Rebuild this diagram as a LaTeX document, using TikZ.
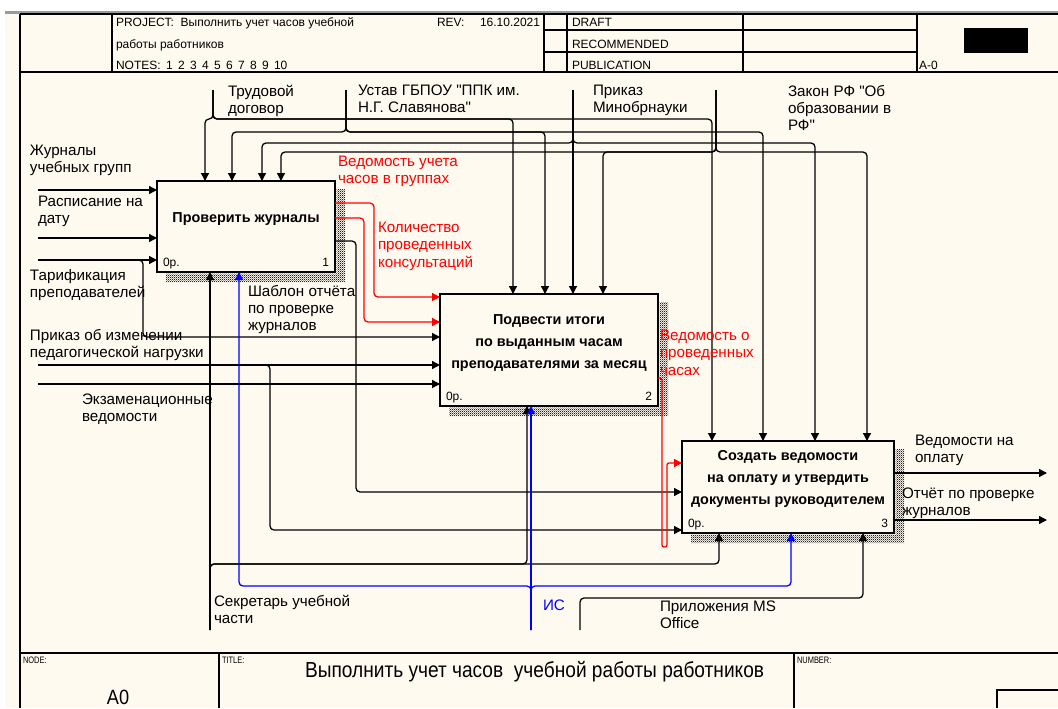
\documentclass[tikz,border=0pt]{standalone}
\usepackage{fontspec}
\setmainfont{Liberation Sans}[Ligatures=TeXOff]
\newfontfamily\narrowsans[FakeStretch=0.8,Ligatures=TeXOff]{Liberation Sans}
\newfontfamily\titlesans[FakeStretch=0.88,Ligatures=TeXOff]{Liberation Sans}
\usetikzlibrary{arrows.meta,patterns}
\definecolor{paper}{HTML}{FFFAF0}
\definecolor{flowred}{HTML}{FF0000}
\definecolor{flowblue}{HTML}{0000FF}
\definecolor{topgray}{HTML}{9A9A9A}

% fine checkerboard used for the box shadows
\pgfdeclarepatternformonly{finechecker}{\pgfqpoint{0pt}{0pt}}{\pgfqpoint{1.6pt}{1.6pt}}{\pgfqpoint{1.6pt}{1.6pt}}{%
  \pgfpathrectangle{\pgfqpoint{0pt}{0pt}}{\pgfqpoint{0.8pt}{0.8pt}}%
  \pgfpathrectangle{\pgfqpoint{0.8pt}{0.8pt}}{\pgfqpoint{0.8pt}{0.8pt}}%
  \pgfusepath{fill}}

\begin{document}
\begin{tikzpicture}[x=0.75pt,y=-0.75pt,
  every node/.style={inner sep=0pt,outer sep=0pt},
  rule/.style={line width=0.9pt},
  hdr/.style={anchor=base west,font=\fontsize{9}{11}\selectfont},
  fieldname/.style={anchor=base west,font=\narrowsans\fontsize{7}{8}\selectfont},
  lbl/.style={anchor=north west,align=left,font=\fontsize{11.4}{13}\selectfont},
  act/.style={draw,line width=2.2pt,fill=paper},
  acttitle/.style={align=center,font=\fontsize{10.8}{16.5}\selectfont\bfseries},
  cost/.style={anchor=base west,font=\fontsize{9}{11}\selectfont},
  num/.style={anchor=base east,font=\fontsize{9}{11}\selectfont},
  hatch/.style={pattern=finechecker,pattern color=black!85},
  flow/.style={line width=0.95pt,rounded corners=3pt,-{Triangle[length=6pt,width=6pt]}},
  feed/.style={flow,draw=flowred},
  tool/.style={flow,draw=flowblue},
]

% sheet
\useasboundingbox (0,0) rectangle (1058,708);
\fill[white] (0,0) rectangle (1058,708);
\fill[paper] (5,13) rectangle (1058,708);

% header frame
\draw[topgray,line width=1.6pt] (5,12.5) -- (1058,12.5);
\draw[rule] (20,14) -- (1058,14);
\draw[rule] (20,14) -- (20,708);
\draw[rule] (20,72) -- (1058,72);
\foreach \x in {112,544,567,743,917} \draw[rule] (\x,14) -- (\x,72);
\draw[rule] (544,30) -- (917,30);
\draw[rule] (544,52) -- (917,52);
\fill (964,28) rectangle (1028,53);

\node[hdr] (hproj) at (116,26.5) {PROJECT:\ \ Выполнить учет часов учебной};
\node[hdr] (hproj2) at (116,48) {работы работников};
\node[hdr] (hnotes) at (116,69.5) {NOTES:\hspace{4pt}1\hspace{4pt}2\hspace{4pt}3\hspace{4pt}4\hspace{4pt}5\hspace{4pt}6\hspace{4pt}7\hspace{4pt}8\hspace{4pt}9\hspace{4pt}10};
\node[hdr] (hrev) at (437,26.5) {REV:};
\node[hdr] (hdate) at (480,26.5) {16.10.2021};
\node[hdr] (hdraft) at (572,26.5) {DRAFT};
\node[hdr] (hrec) at (572,48) {RECOMMENDED};
\node[hdr] (hpub) at (572,69.5) {PUBLICATION};
\node[hdr] (hnode) at (919,69.5) {A-0};

% footer frame
\draw[rule] (20,653) -- (1058,653);
\draw[rule] (219,653) -- (219,708);
\draw[rule] (794,653) -- (794,708);
\draw[rule] (1058,690) -- (997,690) -- (997,708);
\node[fieldname] (fnode) at (23,663) {NODE:};
\node[fieldname] (ftitle) at (222,663) {TITLE:};
\node[fieldname] (fnumber) at (797,663) {NUMBER:};
\node[anchor=base west,font=\titlesans\fontsize{16.3}{18}\selectfont] (ftext) at (305,677) {Выполнить учет часов\ \ учебной работы работников};
\node[anchor=base,font=\titlesans\fontsize{15.5}{18}\selectfont] (fa0) at (118,704) {A0};

% activity boxes
\node[act,minimum width=133.5pt,minimum height=68.25pt] (b1) at (246,226.5) {};
\node[act,minimum width=163.5pt,minimum height=84pt] (b2) at (549,350) {};
\node[act,minimum width=159pt,minimum height=69pt] (b3) at (788,487) {};
\foreach \b in {b1,b2,b3}
  \fill[hatch] ([shift={(1.5,8)}]\b.north east) -- ([shift={(10,8)}]\b.north east)
    -- ([shift={(10,10)}]\b.south east) -- ([shift={(9,10)}]\b.south west)
    -- ([shift={(9,1.5)}]\b.south west) -- ([shift={(1.5,1.5)}]\b.south east) -- cycle;

\node[acttitle] (t1) at ([yshift=5.6pt]b1.center) {Проверить журналы};
\node[acttitle] (t2) at ([yshift=5.6pt]b2.center) {Подвести итоги\\по выданным часам\\преподавателями за месяц};
\node[acttitle] (t3) at ([yshift=6pt]b3.center) {Создать ведомости\\на оплату и утвердить\\документы руководителем};
\foreach \b/\n in {b1/1,b2/2,b3/3}{
  \node[cost] (\b-cost) at ([shift={(6,-6)}]\b.south west) {0р.};
  \node[num] (\b-num) at ([shift={(-6,-6)}]\b.south east) {\n};
}

% free ends of the boundary arrows
\coordinate (trud) at (213,90);
\coordinate (ustav) at (346,90);
\coordinate (prikaz) at (573,90);
\coordinate (zakon) at (716,90);
\coordinate (jour) at (38,190);
\coordinate (rasp) at (38,238);
\coordinate (tarif) at (38,260);
\coordinate (prizm) at (38,365);
\coordinate (exam) at (38,384);
\coordinate (sekr) at (210,630);
\coordinate (is) at (531,630);
\coordinate (pril) at (580,630);
\coordinate (vedpay) at (1047,473);
\coordinate (otchet) at (1047,520);

% controls
\draw[flow] (trud) -- ++(0,29) -| (b1.north -| 205,0);
\draw[flow] (trud) -- ++(0,29) -| (b2.north -| 513,0);
\draw[flow] (trud) -- ++(0,29) -| (b3.north -| 712,0);
\draw[flow] (ustav) -- ++(0,42) -| (b1.north -| 232,0);
\draw[flow] (ustav) -- ++(0,42) -| (b2.north -| 545,0);
\draw[flow] (ustav) -- ++(0,42) -| (b3.north -| 763,0);
\draw[flow] (prikaz) -- ++(0,53) -| (b1.north -| 262,0);
\draw[flow] (prikaz) -- (b2.north -| prikaz);
\draw[flow] (prikaz) -- ++(0,53) -| (b3.north -| 815,0);
\draw[flow] (zakon) -- ++(0,62) -| (b1.north -| 281,0);
\draw[flow] (zakon) -- ++(0,62) -| (b2.north -| 603,0);
\draw[flow] (zakon) -- ++(0,62) -| (b3.north -| 867,0);

% inputs
\draw[flow] (jour) -- (b1.west |- jour);
\draw[flow] (rasp) -- (b1.west |- rasp);
\draw[flow] (tarif) -- (b1.west |- tarif);
\draw[flow] (tarif) -| (143,337) -- (b2.west |- 0,337);
\draw[flow] (prizm) -- (b2.west |- prizm);
\draw[flow] (prizm) -| (270,530) -- (b3.west |- 0,530);
\draw[flow] (exam) -- (b2.west |- exam);

% links between activities
\draw[feed] (b1.east |- 0,203) -| (374,297) -- (b2.west |- 0,297);
\draw[feed] (b1.east |- 0,218) -| (364,322) -- (b2.west |- 0,322);
\draw[flow] (b1.east |- 0,241) -| (356,492) -- (b3.west |- 0,492);
\draw[feed,rounded corners=1.5pt] (b2.east |- 0,378) -| (662,547) -| (667,463) -- (b3.west |- 0,463);

% outputs
\draw[flow] (b3.east |- vedpay) -- (vedpay);
\draw[flow] (b3.east |- otchet) -- (otchet);

% mechanisms
\draw[flow] (sekr) -- (b1.south -| sekr);
\draw[flow] (sekr) |- (527,564) -- (b2.south -| 527,0);
\draw[flow] (sekr) |- (719,564) -- (b3.south -| 719,0);
\draw[tool] (is) -- (b2.south -| is);
\draw[tool] (is) |- (239,586) -- (b1.south -| 239,0);
\draw[tool] (is) |- (791,586) -- (b3.south -| 791,0);
\draw[flow] (pril) |- (863,598) -- (b3.south -| 863,0);

% arrow labels
\node[lbl] (l-trud) at (228,85) {Трудовой\\договор};
\node[lbl] (l-ustav) at (358,85) {Устав ГБПОУ "ППК им.\\Н.Г. Славянова"};
\node[lbl] (l-prikaz) at (593,85) {Приказ\\Минобрнауки};
\node[lbl] (l-zakon) at (788,85) {Закон РФ "Об\\образовании в\\РФ"};
\node[lbl] (l-jour) at (30,145) {Журналы\\учебных групп};
\node[lbl] (l-rasp) at (38,196) {Расписание на\\дату};
\node[lbl] (l-tarif) at (30,269) {Тарификация\\преподавателей};
\node[lbl,text=flowred] (l-vedgr) at (338,156) {Ведомость учета\\часов в группах};
\node[lbl,text=flowred] (l-kons) at (378,222) {Количество\\проведенных\\консультаций};
\node[lbl] (l-shabl) at (248,285) {Шаблон отчёта\\по проверке\\журналов};
\node[lbl] (l-prizm) at (30,329) {Приказ об изменении\\педагогической нагрузки};
\node[lbl] (l-exam) at (82,394) {Экзаменационные\\ведомости};
\node[lbl,text=flowred] (l-vedch) at (660,330) {Ведомость о\\проведенных\\часах};
\node[lbl] (l-vedpay) at (915,435) {Ведомости на\\оплату};
\node[lbl] (l-otchet) at (902,488) {Отчёт по проверке\\журналов};
\node[lbl] (l-sekr) at (214,595) {Секретарь учебной\\части};
\node[lbl,text=flowblue] (l-is) at (543,600) {ИС};
\node[lbl] (l-pril) at (660,601) {Приложения MS\\Office};

\end{tikzpicture}
\end{document}
